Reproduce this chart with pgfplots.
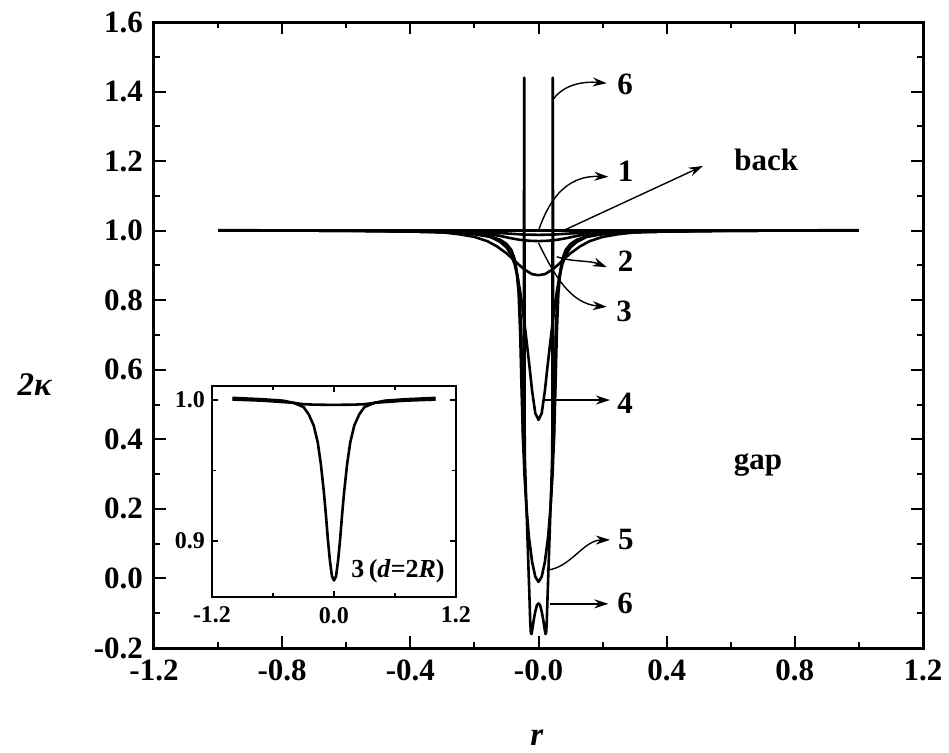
\documentclass[border=0pt]{standalone}
\usepackage{pgfplots}
\pgfplotsset{compat=1.18}
\usepackage{fontspec}
\setmainfont{Liberation Serif}
\usetikzlibrary{arrows.meta}
\newcommand{\mainfont}{\fontsize{15.5}{18}\selectfont\bfseries}
\newcommand{\insetfont}{\fontsize{12}{14}\selectfont\bfseries}
\tikzset{cv/.style={black, solid, line width=1.3pt, mark=none, line join=round}}
\begin{document}
\begin{tikzpicture}
\useasboundingbox (-77pt,-52pt) rectangle (397.5pt,324pt);
\begin{axis}[
  at={(0pt,0pt)}, anchor=south west,
  scale only axis, width=384.5pt, height=313pt,
  xmin=-1.2, xmax=1.2, ymin=-0.2, ymax=1.6,
  axis line style={line width=1.5pt},
  tick style={line width=1pt, black},
  major tick length=6pt, minor tick length=3pt,
  tick align=inside,
  xtick={-1.2,-0.8,-0.4,0,0.4,0.8,1.2},
  xticklabels={-1.2,-0.8,-0.4,-0.0,0.4,0.8,1.2},
  ytick={-0.2,0,0.2,0.4,0.6,0.8,1.0,1.2,1.4,1.6},
  yticklabels={-0.2,0.0,0.2,0.4,0.6,0.8,1.0,1.2,1.4,1.6},
  minor x tick num=1, minor y tick num=1,
  xticklabel style={font=\mainfont, yshift=-2.3pt},
  yticklabel style={font=\mainfont, xshift=-2pt},
  clip=true,
]
% back
\addplot[cv] coordinates {(-1,1.0) (1,1.0)};
% curve 1
\addplot[cv] coordinates {(-1,1.0) (-0.7,1.0) (-0.5,1.0) (-0.3,0.999) (-0.2,0.997) (-0.15,0.995) (-0.1,0.992) (-0.05,0.989) (0,0.988)
 (0.05,0.989) (0.1,0.992) (0.15,0.995) (0.2,0.997) (0.3,0.999) (0.5,1.0) (0.7,1.0) (1,1.0)};
% curve 2
\addplot[cv] coordinates {(-1,1.0) (-0.5,1.0) (-0.3,0.998) (-0.2,0.994) (-0.15,0.99) (-0.12,0.985) (-0.09,0.979) (-0.06,0.974) (-0.03,0.971) (0,0.970)
 (0.03,0.971) (0.06,0.974) (0.09,0.979) (0.12,0.985) (0.15,0.99) (0.2,0.994) (0.3,0.998) (0.5,1.0) (1,1.0)};
% curve 3
\addplot[cv] coordinates {(-1,1.0015) (-0.85,1.001) (-0.7,1.0005) (-0.5,0.9995) (-0.4,0.998) (-0.3,0.995) (-0.25,0.990) (-0.2,0.982) (-0.16,0.970) (-0.13,0.955) (-0.1,0.935) (-0.08,0.919) (-0.06,0.901) (-0.04,0.886) (-0.02,0.875) (0,0.872)
 (0.02,0.875) (0.04,0.886) (0.06,0.901) (0.08,0.919) (0.1,0.935) (0.13,0.955) (0.16,0.970) (0.2,0.982) (0.25,0.990) (0.3,0.995) (0.4,0.998) (0.5,0.9995) (0.7,1.0005) (0.85,1.001) (1,1.0015)};
% curve 4
\addplot[cv] coordinates {(-1,1.0) (-0.7,1.0) (-0.5,0.999) (-0.3,0.996) (-0.2,0.99) (-0.15,0.982) (-0.12,0.968) (-0.1,0.952) (-0.088,0.935) (-0.075,0.905) (-0.066,0.87) (-0.058,0.83) (-0.05,0.78) (-0.042,0.72) (-0.035,0.665) (-0.027,0.60) (-0.02,0.54) (-0.01,0.475) (0,0.456)
 (0.01,0.475) (0.02,0.54) (0.027,0.60) (0.035,0.665) (0.042,0.72) (0.05,0.78) (0.058,0.83) (0.066,0.87) (0.075,0.905) (0.088,0.935) (0.1,0.952) (0.12,0.968) (0.15,0.982) (0.2,0.99) (0.3,0.996) (0.5,0.999) (0.7,1.0) (1,1.0)};
% curve 5
\addplot[cv] coordinates {(-1,1.0) (-0.7,1.0) (-0.5,0.999) (-0.3,0.996) (-0.2,0.991) (-0.15,0.983) (-0.12,0.972) (-0.1,0.958) (-0.085,0.94) (-0.072,0.905) (-0.064,0.86) (-0.058,0.80) (-0.054,0.70) (-0.051,0.55) (-0.048,0.40) (-0.044,0.30) (-0.038,0.21) (-0.03,0.12) (-0.02,0.048) (-0.01,0.005) (0,-0.01)
 (0.01,0.005) (0.02,0.048) (0.03,0.12) (0.038,0.21) (0.044,0.30) (0.048,0.40) (0.051,0.55) (0.054,0.70) (0.058,0.80) (0.064,0.86) (0.072,0.905) (0.085,0.94) (0.1,0.958) (0.12,0.972) (0.15,0.983) (0.2,0.991) (0.3,0.996) (0.5,0.999) (0.7,1.0) (1,1.0)};
% curve 6
\addplot[cv] coordinates {(-1,1.0) (-0.7,1.0) (-0.5,0.999) (-0.3,0.996) (-0.2,0.991) (-0.15,0.984) (-0.12,0.974) (-0.1,0.962) (-0.085,0.945) (-0.075,0.92) (-0.068,0.88) (-0.062,0.82) (-0.057,0.70) (-0.053,0.55) (-0.049,0.42) (-0.0465,0.36) (-0.0445,1.44) (-0.043,0.36) (-0.040,0.27) (-0.036,0.16) (-0.032,0.05) (-0.028,-0.06) (-0.026,-0.12) (-0.024,-0.155) (-0.022,-0.16) (-0.019,-0.145) (-0.015,-0.12) (-0.01,-0.095) (-0.005,-0.077) (0,-0.072)
 (0.005,-0.077) (0.01,-0.095) (0.015,-0.12) (0.019,-0.145) (0.022,-0.16) (0.024,-0.155) (0.026,-0.12) (0.028,-0.06) (0.032,0.05) (0.036,0.16) (0.040,0.27) (0.043,0.36) (0.0445,1.44) (0.0465,0.36) (0.049,0.42) (0.053,0.55) (0.057,0.70) (0.062,0.82) (0.068,0.88) (0.075,0.92) (0.085,0.945) (0.1,0.962) (0.12,0.974) (0.15,0.984) (0.2,0.991) (0.3,0.996) (0.5,0.999) (0.7,1.0) (1,1.0)};
% annotations
\begin{scope}[line width=0.7pt, -{Stealth[length=7pt,width=4.5pt]}]
\draw (axis cs:0.048,1.38) .. controls (axis cs:0.08,1.42) and (axis cs:0.14,1.43) .. (axis cs:0.213,1.424);
\draw (axis cs:0.0,1.0) .. controls (axis cs:0.03,1.08) and (axis cs:0.08,1.16) .. (axis cs:0.218,1.155);
\draw (axis cs:0.077,1.0) -- (axis cs:0.513,1.186);
\draw (axis cs:0.057,0.925) .. controls (axis cs:0.1,0.91) and (axis cs:0.16,0.915) .. (axis cs:0.213,0.895);
\draw (axis cs:0.0,0.965) .. controls (axis cs:0.05,0.87) and (axis cs:0.1,0.79) .. (axis cs:0.213,0.781);
\draw (axis cs:0.02,0.513) -- (axis cs:0.223,0.513);
\draw (axis cs:0.026,0.024) .. controls (axis cs:0.1,0.03) and (axis cs:0.14,0.11) .. (axis cs:0.223,0.111);
\draw (axis cs:0.036,-0.073) -- (axis cs:0.218,-0.073);
\end{scope}
\begin{scope}[every node/.style={font=\mainfont, inner sep=0pt}]
\node at (axis cs:0.27,1.422) {6};
\node at (axis cs:0.272,1.172) {1};
\node at (axis cs:0.711,1.203) {back};
\node at (axis cs:0.272,0.913) {2};
\node at (axis cs:0.267,0.769) {3};
\node at (axis cs:0.27,0.505) {4};
\node at (axis cs:0.685,0.326) {gap};
\node at (axis cs:0.273,0.111) {5};
\node at (axis cs:0.27,-0.073) {6};
\end{scope}
\end{axis}
% inset
\begin{axis}[
  at={(29pt,25.5pt)}, anchor=south west,
  scale only axis, width=122pt, height=105.5pt,
  xmin=-1.2, xmax=1.2, ymin=0.8603, ymax=1.0099,
  axis line style={line width=1pt},
  tick style={line width=0.8pt, black},
  major tick length=3pt, minor tick length=2pt,
  tick align=inside,
  xtick={-1.2,0,1.2}, xticklabels={-1.2,0.0,1.2},
  ytick={0.9,1.0}, yticklabels={0.9,1.0},
  minor x tick num=1, minor y tick num=1,
  xticklabel style={font=\insetfont, yshift=-1.5pt},
  yticklabel style={font=\insetfont},
]
\addplot[cv] coordinates {(-1,1.0003) (-0.7,0.9995) (-0.5,0.9985) (-0.4,0.998) (-0.3,0.997) (-0.2,0.9967) (0,0.9965) (0.2,0.9967) (0.3,0.997) (0.4,0.998) (0.5,0.9985) (0.7,0.9995) (1,1.0003)};
\addplot[cv] coordinates {(-1,1.0015) (-0.85,1.001) (-0.7,1.0005) (-0.5,0.9995) (-0.4,0.998) (-0.3,0.995) (-0.25,0.990) (-0.2,0.982) (-0.16,0.970) (-0.13,0.955) (-0.1,0.935) (-0.08,0.919) (-0.06,0.901) (-0.04,0.886) (-0.02,0.875) (0,0.872)
 (0.02,0.875) (0.04,0.886) (0.06,0.901) (0.08,0.919) (0.1,0.935) (0.13,0.955) (0.16,0.970) (0.2,0.982) (0.25,0.990) (0.3,0.995) (0.4,0.998) (0.5,0.9995) (0.7,1.0005) (0.85,1.001) (1,1.0015)};
\node[font=\fontsize{13}{15}\selectfont\bfseries, inner sep=0pt] at (axis cs:0.63,0.8788) {3\,(\textit{d}=2\textit{R})};
\end{axis}
\node[font=\fontsize{16.5}{19}\selectfont\bfseries] at (-59.5pt,131.5pt) {\textit{2κ}};
\node[font=\fontsize{16.5}{19}\selectfont\bfseries, anchor=base, inner sep=0pt] at (191.5pt,-48.5pt) {\textit{r}};
\end{tikzpicture}
\end{document}
